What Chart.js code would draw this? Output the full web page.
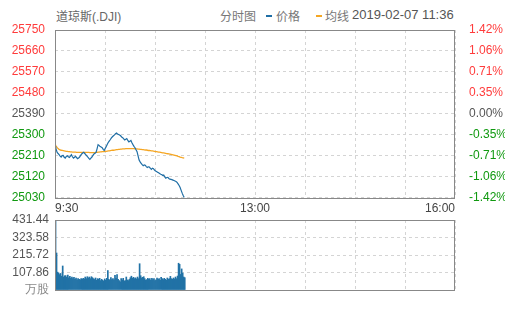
<!DOCTYPE html>
<html>
<head>
<meta charset="utf-8">
<script src="https://cdn.jsdelivr.net/npm/chart.js@4"></script>
<style>
  body { margin: 0; background: #fff; width: 505px; height: 310px; overflow: hidden; position: relative; }
  .hd { position: absolute; top: 8px; font: 12px "Noto Sans CJK SC", "Liberation Sans", sans-serif; color: #777; white-space: nowrap; line-height: 16px; }
  .dash { position: absolute; top: 15px; width: 6px; height: 2px; }
  #priceBox { position: absolute; left: 0; top: 0; width: 505px; height: 215px; }
  #volBox { position: absolute; left: 0; top: 205px; width: 505px; height: 105px; }
</style>
</head>
<body>
<span class="hd" style="left:56px;color:#666">道琼斯<span style="font-family:'Liberation Sans'">(.DJI)</span></span>
<span class="hd" style="left:220px">分时图</span>
<span class="dash" style="left:266px;background:#1f6ea5"></span>
<span class="hd" style="left:276px">价格</span>
<span class="dash" style="left:316px;background:#f5a623"></span>
<span class="hd" style="left:325px">均线</span>
<span class="hd" style="left:352px;top:7px;font-size:13px;color:#555;font-family:'Liberation Sans',sans-serif">2019-02-07 11:36</span>
<div id="priceBox"><canvas id="price"></canvas></div>
<div id="volBox"><canvas id="vol"></canvas></div>
<script>
// minutes since 9:30, one value per minute up to 11:36
const price = [
  25264, 25240, 25226, 25220, 25215, 25209, 25205, 25211, 25212, 25204,
  25200, 25207, 25210, 25206, 25203, 25209, 25215, 25206, 25200, 25204,
  25208, 25203, 25198, 25201, 25205, 25212, 25218, 25222, 25225, 25220,
  25215, 25210, 25205, 25199, 25195, 25200, 25205, 25212, 25218, 25221,
  25225, 25240, 25258, 25255, 25250, 25248, 25245, 25238, 25233, 25242,
  25250, 25260, 25268, 25274, 25280, 25287, 25292, 25296, 25300, 25305,
  25308, 25304, 25302, 25299, 25296, 25291, 25288, 25283, 25278, 25281,
  25284, 25276, 25270, 25273, 25276, 25266, 25258, 25251, 25245, 25236,
  25228, 25210, 25192, 25184, 25178, 25172, 25168, 25171, 25170, 25164,
  25160, 25163, 25162, 25156, 25152, 25157, 25155, 25149, 25145, 25143,
  25140, 25137, 25134, 25131, 25130, 25126, 25128, 25120, 25114, 25117,
  25118, 25113, 25110, 25109, 25108, 25106, 25104, 25102, 25100, 25096,
  25090, 25083, 25074, 25062, 25050, 25040, 25031
];
const avgLine = [
  25262, 25252, 25246, 25241, 25238, 25236, 25234, 25233, 25232, 25231,
  25230, 25229, 25229, 25228, 25228, 25227, 25227, 25226, 25226, 25226,
  25226, 25225, 25225, 25225, 25225, 25225, 25225, 25225, 25225, 25225,
  25225, 25225, 25225, 25225, 25224, 25224, 25224, 25224, 25224, 25224,
  25225, 25225, 25226, 25226, 25227, 25227, 25228, 25228, 25228, 25229,
  25229, 25230, 25231, 25231, 25232, 25233, 25234, 25234, 25235, 25236,
  25237, 25237, 25238, 25238, 25239, 25239, 25240, 25240, 25240, 25241,
  25241, 25241, 25241, 25241, 25241, 25241, 25241, 25241, 25240, 25240,
  25240, 25239, 25239, 25238, 25238, 25237, 25237, 25236, 25235, 25235,
  25234, 25233, 25233, 25232, 25231, 25231, 25230, 25229, 25228, 25228,
  25227, 25226, 25226, 25225, 25224, 25223, 25223, 25222, 25221, 25220,
  25219, 25218, 25217, 25216, 25215, 25214, 25213, 25212, 25211, 25210,
  25208, 25207, 25205, 25204, 25202, 25201, 25200
];
const volume = [
  431, 228, 110, 105, 95, 102, 85, 148, 80, 88,
  88, 78, 92, 75, 84, 72, 80, 70, 78, 66,
  74, 62, 70, 65, 62, 70, 66, 72, 68, 80,
  70, 82, 74, 80, 70, 82, 76, 70, 65, 74,
  60, 70, 66, 72, 58, 66, 60, 55, 68, 60,
  72, 120, 65, 60, 76, 64, 70, 62, 90, 72,
  95, 66, 58, 50, 70, 62, 72, 55, 58, 80,
  62, 58, 65, 76, 85, 72, 78, 70, 75, 68,
  80, 70, 162, 88, 74, 78, 82, 70, 60, 64,
  72, 66, 70, 60, 72, 64, 70, 58, 62, 74,
  66, 70, 60, 78, 70, 64, 72, 66, 60, 74,
  66, 70, 84, 70, 66, 74, 68, 80, 70, 86,
  165, 158, 96, 130, 104, 80, 76
];
const prevClose = 25390;
const priceTicks = [25030, 25120, 25210, 25300, 25390, 25480, 25570, 25660, 25750];
const pctLabels = ['-1.42%', '-1.06%', '-0.71%', '-0.35%', '0.00%', '0.35%', '0.71%', '1.06%', '1.42%'];
const volTicks = [0, 107.86, 215.72, 323.58, 431.44];
const volLabels = ['万股', '107.86', '215.72', '323.58', '431.44'];
const timeLabels = ['9:30', '13:00', '16:00'];
const sessionMinutes = 390;

const font = { family: '"Liberation Sans", Arial, sans-serif', size: 12 };
const gridStyle = { color: '#d4d4d4', lineWidth: 1, drawTicks: false };
const dash = { dash: [3, 3], display: false };

const upDown = (v) => v > prevClose ? '#ff3b3b' : (v < prevClose ? '#109910' : '#555');

const frame = {
  id: 'frame',
  afterDraw(chart) {
    const a = chart.chartArea, ctx = chart.ctx;
    ctx.save();
    ctx.strokeStyle = '#888';
    ctx.lineWidth = 1;
    ctx.strokeRect(Math.round(a.left) + 0.5, Math.round(a.top) + 0.5,
      Math.round(a.right - a.left) - 1, Math.round(a.bottom - a.top));
    ctx.restore();
  }
};

const timeAxis = (showLabels, h) => ({
  type: 'linear', min: 0, max: sessionMinutes, offset: false,
  afterBuildTicks: s => { s.ticks = [0, 1, 2, 3, 4, 5, 6, 7, 8].map(i => ({ value: i * sessionMinutes / 8 })); },
  afterFit: s => { s.height = h; },
  grid: Object.assign({ offset: false }, gridStyle), border: dash,
  ticks: {
    display: showLabels, font, color: '#444', padding: 4, align: 'inner', maxRotation: 0, autoSkip: false,
    callback: (v, i) => i % 4 === 0 ? timeLabels[i / 4] : ''
  }
});

new Chart(document.getElementById('price'), {
  type: 'line',
  data: {
    datasets: [
      { label: '价格', data: price.map((v, i) => ({ x: i, y: v })), borderColor: '#1f6ea5', borderWidth: 1.2, pointRadius: 0, order: 1, yAxisID: 'y' },
      { label: '均线', data: avgLine.map((v, i) => ({ x: i, y: v })), borderColor: '#f5a623', borderWidth: 1.3, pointRadius: 0, order: 2, yAxisID: 'y' }
    ]
  },
  options: {
    responsive: true, maintainAspectRatio: false, animation: false,
    layout: { padding: { top: 30, left: 0, right: 0, bottom: 0 } },
    plugins: { legend: { display: false }, tooltip: { enabled: false } },
    scales: {
      x: timeAxis(true, 16),
      y: {
        position: 'left', min: 25030, max: 25750,
        afterBuildTicks: s => { s.ticks = priceTicks.map(v => ({ value: v })); },
        afterFit: s => { s.width = 55; },
        grid: gridStyle, border: dash,
        ticks: { font, padding: 10, autoSkip: false, color: c => upDown(c.tick.value), callback: v => String(v) }
      },
      y2: {
        position: 'right', min: 25030, max: 25750,
        afterBuildTicks: s => { s.ticks = priceTicks.map(v => ({ value: v })); },
        afterFit: s => { s.width = 50; },
        grid: { display: false }, border: dash,
        ticks: { font, padding: 6, autoSkip: false, color: c => upDown(c.tick.value), callback: v => pctLabels[priceTicks.indexOf(v)] }
      }
    }
  },
  plugins: [frame]
});

// each minute's bar fills the slot from i to i+1
new Chart(document.getElementById('vol'), {
  type: 'bar',
  data: {
    datasets: [
      { label: '成交量', data: volume.map((v, i) => ({ x: i + 0.5, y: v })), backgroundColor: '#2172a6', barPercentage: 1, categoryPercentage: 1, grouped: false }
    ]
  },
  options: {
    responsive: true, maintainAspectRatio: false, animation: false,
    layout: { padding: { top: 15, left: 0, right: 50, bottom: 0 } },
    plugins: { legend: { display: false }, tooltip: { enabled: false } },
    scales: {
      x: timeAxis(false, 20),
      y: {
        position: 'left', min: 0, max: 431.44,
        afterBuildTicks: s => { s.ticks = volTicks.map(v => ({ value: v })); },
        afterFit: s => { s.width = 55; },
        grid: gridStyle, border: dash,
        ticks: { font, padding: 6, autoSkip: false, color: c => c.index === 0 ? '#888' : '#555', callback: (v, i) => volLabels[i] }
      }
    }
  },
  plugins: [frame]
});
</script>
</body>
</html>
